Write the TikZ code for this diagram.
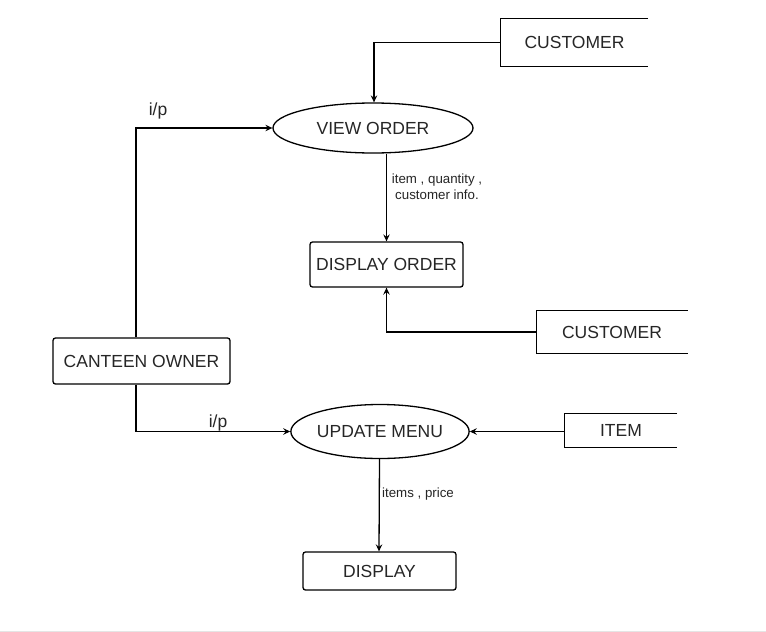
\documentclass[tikz,border=0pt]{standalone}
\usepackage{fontspec}
\setmainfont{Liberation Sans}
\usetikzlibrary{shapes.geometric,arrows.meta}
\tikzset{
  lbl/.style={font=\fontsize{17.5}{20}\selectfont, text=black!85},
  small/.style={font=\fontsize{13.3}{16}\selectfont, text=black!85, align=center},
  proc/.style={ellipse, draw, line width=1.3pt, lbl, inner sep=0pt},
  box/.style={rectangle, rounded corners=2.5pt, draw, line width=1.3pt, lbl, inner sep=0pt},
  store/.style={rectangle, lbl, inner sep=0pt},
  arr/.style={line width=1.3pt, -{Stealth[length=7pt,width=6.5pt,inset=2.5pt]}},
  edge/.style={line width=1.3pt}
}
\newcommand{\openbox}[1]{\draw[edge] (#1.north east) -- (#1.north west) -- (#1.south west) -- (#1.south east);}
\begin{document}
\begin{tikzpicture}[x=1pt,y=-1pt]
\useasboundingbox (0,0) rectangle (766,632);
\fill[white] (0,0) rectangle (766,632);
\draw[black!10, line width=1pt] (0,631) -- (766,631);

\node[proc, minimum width=200pt, minimum height=50pt] (view) at (373,128) {VIEW ORDER};
\node[box, minimum width=153pt, minimum height=45pt] (dorder) at (386.5,264.5) {DISPLAY ORDER};
\node[box, minimum width=177pt, minimum height=46pt] (owner) at (141.5,361) {CANTEEN OWNER};
\node[proc, minimum width=178pt, minimum height=54pt] (update) at (380,431.5) {UPDATE MENU};
\node[box, minimum width=153pt, minimum height=38pt] (display) at (379.5,571) {DISPLAY};

\node[store, minimum width=147pt, minimum height=47pt] (cust1) at (574.5,42.5) {CUSTOMER};
\node[store, minimum width=151pt, minimum height=42pt] (cust2) at (612,332) {CUSTOMER};
\node[store, minimum width=112pt, minimum height=34pt] (item) at (621,430.5) {ITEM};
\openbox{cust1}
\openbox{cust2}
\openbox{item}

\draw[arr] (cust1.west) -| ([xshift=1pt]view.north);
\draw[arr] (dorder.north |- view.south) -- (dorder.north);
\draw[arr] (cust2.west) -| (dorder.south);
\draw[arr] ([xshift=-5.5pt]owner.north) |- (view.west);
\draw[arr] ([xshift=-5.5pt]owner.south) |- (update.west);
\draw[arr] (item.west |- update.east) -- (update.east);
\draw[arr] ([xshift=-0.5pt]update.south) -- ([xshift=-0.5pt]display.north);

\node[lbl] (ip1) at (158,111) {i/p};
\node[lbl] (ip2) at (218,423) {i/p};
\node[small] (l1) at (437,187) {item , quantity ,\\ customer info.};
\node[small] (l2) at (418,494) {items , price};
\end{tikzpicture}
\end{document}
